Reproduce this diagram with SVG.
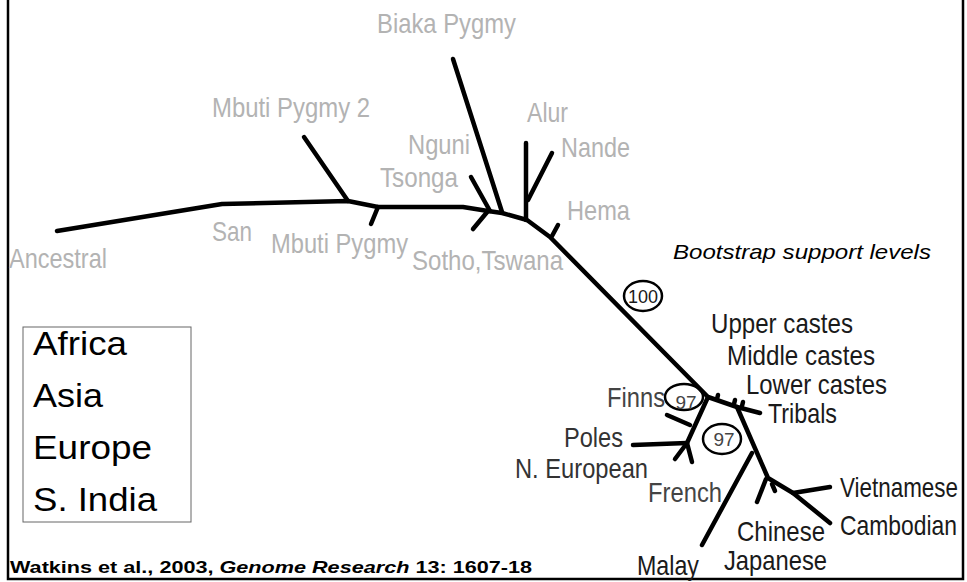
<svg xmlns="http://www.w3.org/2000/svg" width="967" height="582" viewBox="0 0 967 582">
<style>
.br{fill:none;stroke:#000;stroke-width:4.5;stroke-linecap:round;stroke-linejoin:round}
.g{font-family:"Liberation Sans",Arial,sans-serif;font-size:28px;fill:#b3b3b3}
.k{font-family:"Liberation Sans",Arial,sans-serif;font-size:28px;fill:#1a1a1a}
.lg{font-family:"Liberation Sans",Arial,sans-serif;font-size:34px;fill:#000}
.bs{fill:none;stroke:#000;stroke-width:2.5}
.bn{font-family:"Liberation Sans",Arial,sans-serif;font-size:19px;fill:#1a1a1a}
</style>
<rect width="967" height="582" fill="#fff"/>
<g id="frame" fill="none" stroke="#000" stroke-width="2.5">
<polyline points="8,0 8,579 963,579 963,0"/>
</g>
<g id="connectors">
<polyline class="br" points="57,231 222,204 348,201 378,207 463,207 488,211 502,213 527,220 550,237 708,397 737,407 760,413"/>
<line class="br" x1="348" y1="201" x2="304" y2="137"/>
<line class="br" x1="378" y1="207" x2="371" y2="224"/>
<line class="br" x1="471" y1="177" x2="490" y2="211"/>
<line class="br" x1="488" y1="211" x2="473" y2="229"/>
<line class="br" x1="453" y1="59" x2="502" y2="212"/>
<line class="br" x1="526" y1="143" x2="526" y2="220"/>
<line class="br" x1="552" y1="153" x2="528" y2="200"/>
<line class="br" x1="558" y1="225" x2="552" y2="236"/>
<line class="br" x1="717" y1="399" x2="718" y2="395" stroke-width="3"/>
<line class="br" x1="734" y1="404" x2="735" y2="400" stroke-width="3"/>
<line class="br" x1="742" y1="406" x2="743" y2="402" stroke-width="3"/>
<polyline class="br" points="737,407 768,478 793,493 830,523"/>
<line class="br" x1="793" y1="493" x2="830" y2="487"/>
<line class="br" x1="766" y1="479" x2="757" y2="502"/>
<line class="br" x1="772" y1="484" x2="775" y2="491"/>
<line class="br" x1="752" y1="453" x2="702" y2="545"/>
<polyline class="br" points="708,397 687,443 675,459"/>
<line class="br" x1="633" y1="445" x2="687" y2="443"/>
<line class="br" x1="687" y1="443" x2="692" y2="462"/>
<line class="br" x1="667" y1="415" x2="690" y2="425"/>
</g>
<g id="ancestral"><text class="g" x="9" y="268" textLength="98" lengthAdjust="spacingAndGlyphs">Ancestral</text></g>
<g id="san"><text class="g" x="212" y="241" textLength="40" lengthAdjust="spacingAndGlyphs">San</text></g>
<g id="mbuti"><text class="g" x="271" y="253" textLength="137" lengthAdjust="spacingAndGlyphs">Mbuti Pygmy</text></g>
<g id="mbuti2"><text class="g" x="212" y="117" textLength="158" lengthAdjust="spacingAndGlyphs">Mbuti Pygmy 2</text></g>
<g id="biaka"><text class="g" x="377" y="33" textLength="139" lengthAdjust="spacingAndGlyphs">Biaka Pygmy</text></g>
<g id="nguni"><text class="g" x="408" y="154" textLength="62" lengthAdjust="spacingAndGlyphs">Nguni</text></g>
<g id="tsonga"><text class="g" x="380" y="187" textLength="78" lengthAdjust="spacingAndGlyphs">Tsonga</text></g>
<g id="alur"><text class="g" x="527" y="122" textLength="41" lengthAdjust="spacingAndGlyphs">Alur</text></g>
<g id="nande"><text class="g" x="561" y="157" textLength="69" lengthAdjust="spacingAndGlyphs">Nande</text></g>
<g id="hema"><text class="g" x="567" y="220" textLength="63" lengthAdjust="spacingAndGlyphs">Hema</text></g>
<g id="sotho"><text class="g" x="412" y="270" textLength="151" lengthAdjust="spacingAndGlyphs">Sotho,Tswana</text></g>
<g id="bootstrap"><text x="673" y="259" font-family="Liberation Sans,Arial,sans-serif" font-size="21" font-style="italic" fill="#000" textLength="258" lengthAdjust="spacingAndGlyphs">Bootstrap support levels</text></g>
<g id="b100"><ellipse class="bs" cx="643" cy="296" rx="19" ry="15"/><text class="bn" x="643" y="303" text-anchor="middle" textLength="30" lengthAdjust="spacingAndGlyphs">100</text></g>
<g id="b97a"><ellipse class="bs" cx="684" cy="397" rx="19" ry="13"/><text class="bn" x="686" y="409" text-anchor="middle" style="fill:#444">97</text></g>
<g id="b97b"><ellipse class="bs" cx="722" cy="439" rx="19" ry="15"/><text class="bn" x="724" y="446" text-anchor="middle" style="fill:#444">97</text></g>
<g id="upper"><text class="k" x="711" y="333" textLength="142" lengthAdjust="spacingAndGlyphs">Upper castes</text></g>
<g id="middle"><text class="k" x="727" y="365" textLength="148" lengthAdjust="spacingAndGlyphs">Middle castes</text></g>
<g id="lower"><text class="k" x="746" y="394" textLength="141" lengthAdjust="spacingAndGlyphs">Lower castes</text></g>
<g id="tribals"><text class="k" x="768" y="423" textLength="69" lengthAdjust="spacingAndGlyphs">Tribals</text></g>
<g id="finns"><text class="k" x="607" y="407" textLength="58" lengthAdjust="spacingAndGlyphs" style="fill:#444">Finns</text></g>
<g id="poles"><text class="k" x="564" y="447" textLength="59" lengthAdjust="spacingAndGlyphs" style="fill:#333">Poles</text></g>
<g id="neuro"><text class="k" x="515" y="478" textLength="133" lengthAdjust="spacingAndGlyphs" style="fill:#333">N. European</text></g>
<g id="french"><text class="k" x="648" y="502" textLength="74" lengthAdjust="spacingAndGlyphs" style="fill:#444">French</text></g>
<g id="malay"><text class="k" x="637" y="575" textLength="62" lengthAdjust="spacingAndGlyphs">Malay</text></g>
<g id="japanese"><text class="k" x="724" y="570" textLength="103" lengthAdjust="spacingAndGlyphs">Japanese</text></g>
<g id="chinese"><text class="k" x="737" y="541" textLength="88" lengthAdjust="spacingAndGlyphs">Chinese</text></g>
<g id="vietnamese"><text class="k" x="840" y="497" textLength="118" lengthAdjust="spacingAndGlyphs">Vietnamese</text></g>
<g id="cambodian"><text class="k" x="840" y="535" textLength="117" lengthAdjust="spacingAndGlyphs">Cambodian</text></g>
<g id="legend">
<rect x="23" y="327" width="168" height="195" fill="#fff" stroke="#666" stroke-width="1"/>
<text class="lg" x="33" y="355" textLength="94" lengthAdjust="spacingAndGlyphs">Africa</text>
<text class="lg" x="33" y="407" textLength="70" lengthAdjust="spacingAndGlyphs">Asia</text>
<text class="lg" x="33" y="459" textLength="119" lengthAdjust="spacingAndGlyphs">Europe</text>
<text class="lg" x="33" y="511" textLength="124" lengthAdjust="spacingAndGlyphs">S. India</text>
</g>
<g id="citation"><text x="10" y="573" font-family="Liberation Sans,Arial,sans-serif" font-size="17" font-weight="bold" fill="#000" textLength="522" lengthAdjust="spacingAndGlyphs">Watkins et al., 2003, <tspan font-style="italic">Genome Research</tspan> 13: 1607-18</text></g>
</svg>
